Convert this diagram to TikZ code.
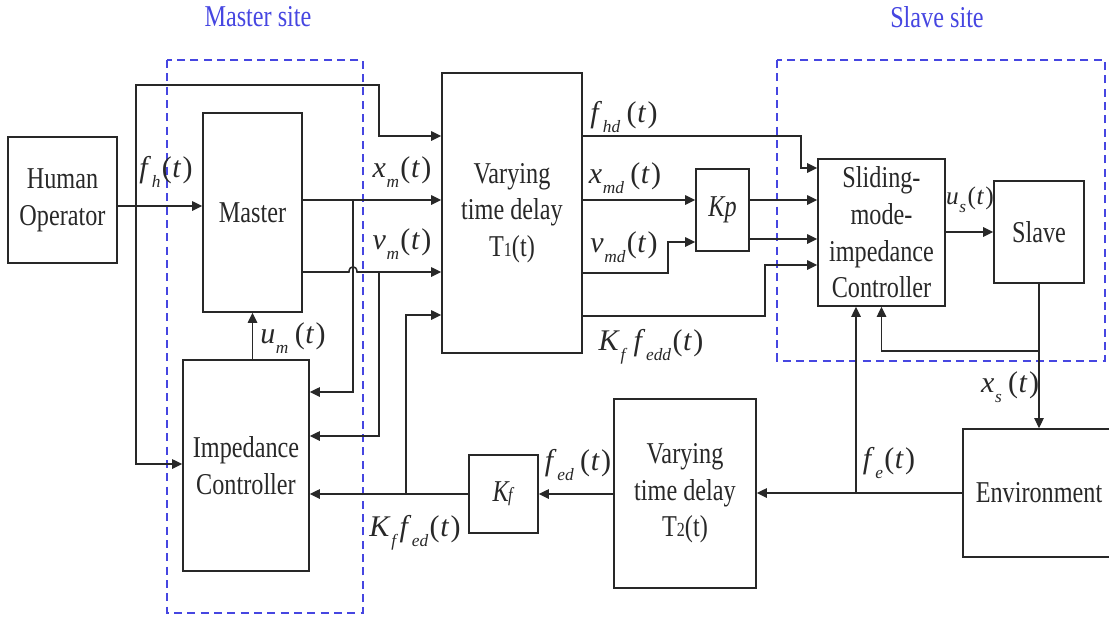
\documentclass[tikz,border=0pt]{standalone}
\usepackage{fontspec}
\setmainfont{Liberation Serif}[FakeStretch=0.8]
\newfontfamily\labfont{Liberation Serif}
\usetikzlibrary{arrows.meta}
\definecolor{siteblue}{RGB}{70,70,225}
\definecolor{ln}{RGB}{40,40,40}
\newcommand\lsub[1]{\kern0.5pt\raisebox{-0.32em}{\fontsize{13}{13}\selectfont\textit{#1}}\kern1pt}
\newcommand\lt{(\kern0.5pt\textit{t}\kern1pt)}
\begin{document}
\begin{tikzpicture}[x=0.75pt, y=-0.75pt, line width=1.15pt, draw=ln,
  >={Triangle[length=7.5pt,width=7pt]},
  blk/.style={draw=ln, line width=1.15pt, inner sep=0pt, align=center,
    font=\fontsize{22.7}{27.5}\selectfont, text=ln},
  sz/.style 2 args={minimum width=#1*0.75pt, minimum height=#2*0.75pt},
  lab/.style={inner sep=0pt, text=ln, font=\labfont\fontsize{22.5}{24}\selectfont},
  sitelab/.style={inner sep=0pt, text=siteblue, font=\fontsize{22.7}{27.5}\selectfont},
  site/.style={draw=siteblue, dash pattern=on 6pt off 4pt, line width=1.1pt}]
\useasboundingbox (0,0) rectangle (1109,619);

% site frames
\draw[site] (167,60) rectangle (363,613);
\draw[site] (777,60) rectangle (1105,361);
\node[sitelab] (ms) at (258,17) {Master site};
\node[sitelab] (ss) at (937,17) {Slave site};

% blocks
\node[blk, sz={109}{126}] (hum) at (62.5,200) {Human\\Operator};
\node[blk, sz={99}{199}] (mas) at (252.5,212.5) {Master};
\node[blk, sz={126}{211}] (imp) at (246,465.5) {Impedance\\Controller};
\node[blk, sz={140}{280}] (t1) at (512,213) {Varying\\time delay\\T{\fontsize{15}{15}\selectfont 1}(t)};
\node[blk, sz={53}{82}] (kp) at (722.5,210) {\textit{Kp}};
\node[blk, sz={127}{147}] (smc) at (881.5,232.5) {Sliding-\\mode-\\impedance\\Controller};
\node[blk, sz={90}{102}] (slv) at (1039,232) {Slave};
\node[blk, sz={152}{128}] (env) at (1039,493) {Environment};
\node[blk, sz={142}{189}] (t2) at (685,493.5) {Varying\\time delay\\T{\fontsize{15}{15}\selectfont 2}(t)};
\node[blk, sz={69}{78}] (kf) at (503.5,494) {\textit{K\kern-0.5pt{\fontsize{15}{15}\selectfont f}}};

% junction coordinates
\coordinate (jfh) at (136,206);
\coordinate (jxm) at (353,200);
\coordinate (jvm) at (379,272);
\coordinate (jkf) at (406,494);
\coordinate (jxs) at (1039,351);
\coordinate (jfe) at (856,493);

% master side
\draw[->] (hum.east |- jfh) -- (mas.west |- jfh);
\draw[->] (jfh) |- (379,85) |- (t1.west |- 0,136);
\draw[->] (jfh) |- (imp.west |- 0,464);
\draw[->] (mas.east |- jxm) -- (t1.west |- jxm);
\draw[->] (jxm) |- (imp.east |- 0,392);
\draw[->] (mas.east |- jvm) -- (349,272) .. controls (349,265) and (357,265) .. (357,272) -- (t1.west |- jvm);
\draw[->] (jvm) |- (imp.east |- 0,436);
\draw[->] (imp.north -| mas.south) -- (mas.south);
\draw[->] (kf.west) -- (imp.east |- kf.west);
\draw[->] (jkf) |- (t1.west |- 0,315);

% delay T1 outputs
\draw[->] (t1.east |- 0,136) -| (801,168) -- (smc.west |- 0,168);
\draw[->] (t1.east |- 0,200) -- (kp.west |- 0,200);
\draw[->] (t1.east |- 0,273) -| (668,242) -- (kp.west |- 0,242);
\draw[->] (t1.east |- 0,316) -| (765,265) -- (smc.west |- 0,265);
\draw[->] (kp.east |- 0,200) -- (smc.west |- 0,200);
\draw[->] (kp.east |- 0,239) -- (smc.west |- 0,239);

% slave side
\draw[->] (smc.east |- 0,232) -- (slv.west |- 0,232);
\draw[->, line width=0.8pt] (slv.south) -- (env.north);
\draw[->] (jxs) -| (smc.south);
\draw[->] (env.west) -- (t2.east |- env.west);
\draw[->] (jfe) -- (smc.south -| jfe);
\draw[->] (t2.west |- kf.east) -- (kf.east);

% labels
\node[lab] (lfh) at (166,172) {\textit{f}\lsub{h}\lt};
\node[lab] (lxm) at (402,172) {\textit{x}\lsub{m}\lt};
\node[lab] (lvm) at (402,244) {\textit{v}\lsub{m}\lt};
\node[lab] (lum) at (293,338) {\textit{u}\lsub{m}\,\lt};
\node[lab] (lkfed) at (415,533) {\textit{K}\lsub{f}\textit{f}\lsub{ed}\lt};
\node[lab] (lfhd) at (624,117) {\textit{f}\lsub{hd}\,\lt};
\node[lab] (lxmd) at (625,178) {\textit{x}\lsub{md}\,\lt};
\node[lab] (lvmd) at (624,247) {\textit{v}\lsub{md}\lt};
\node[lab] (lkfedd) at (651,347) {\textit{K}\lsub{f}\,\textit{f}\lsub{edd}\lt};
\node[lab, font=\labfont\fontsize{19}{20}\selectfont] (lus) at (970,200) {\textit{u}\lsub{s}\lt};
\node[lab] (lxs) at (1010,387) {\textit{x}\lsub{s}\,\lt};
\node[lab] (lfe) at (889,463) {\textit{f}\lsub{e}\lt};
\node[lab] (lfed) at (578,465) {\textit{f}\lsub{ed}\,\lt};
\end{tikzpicture}
\end{document}
